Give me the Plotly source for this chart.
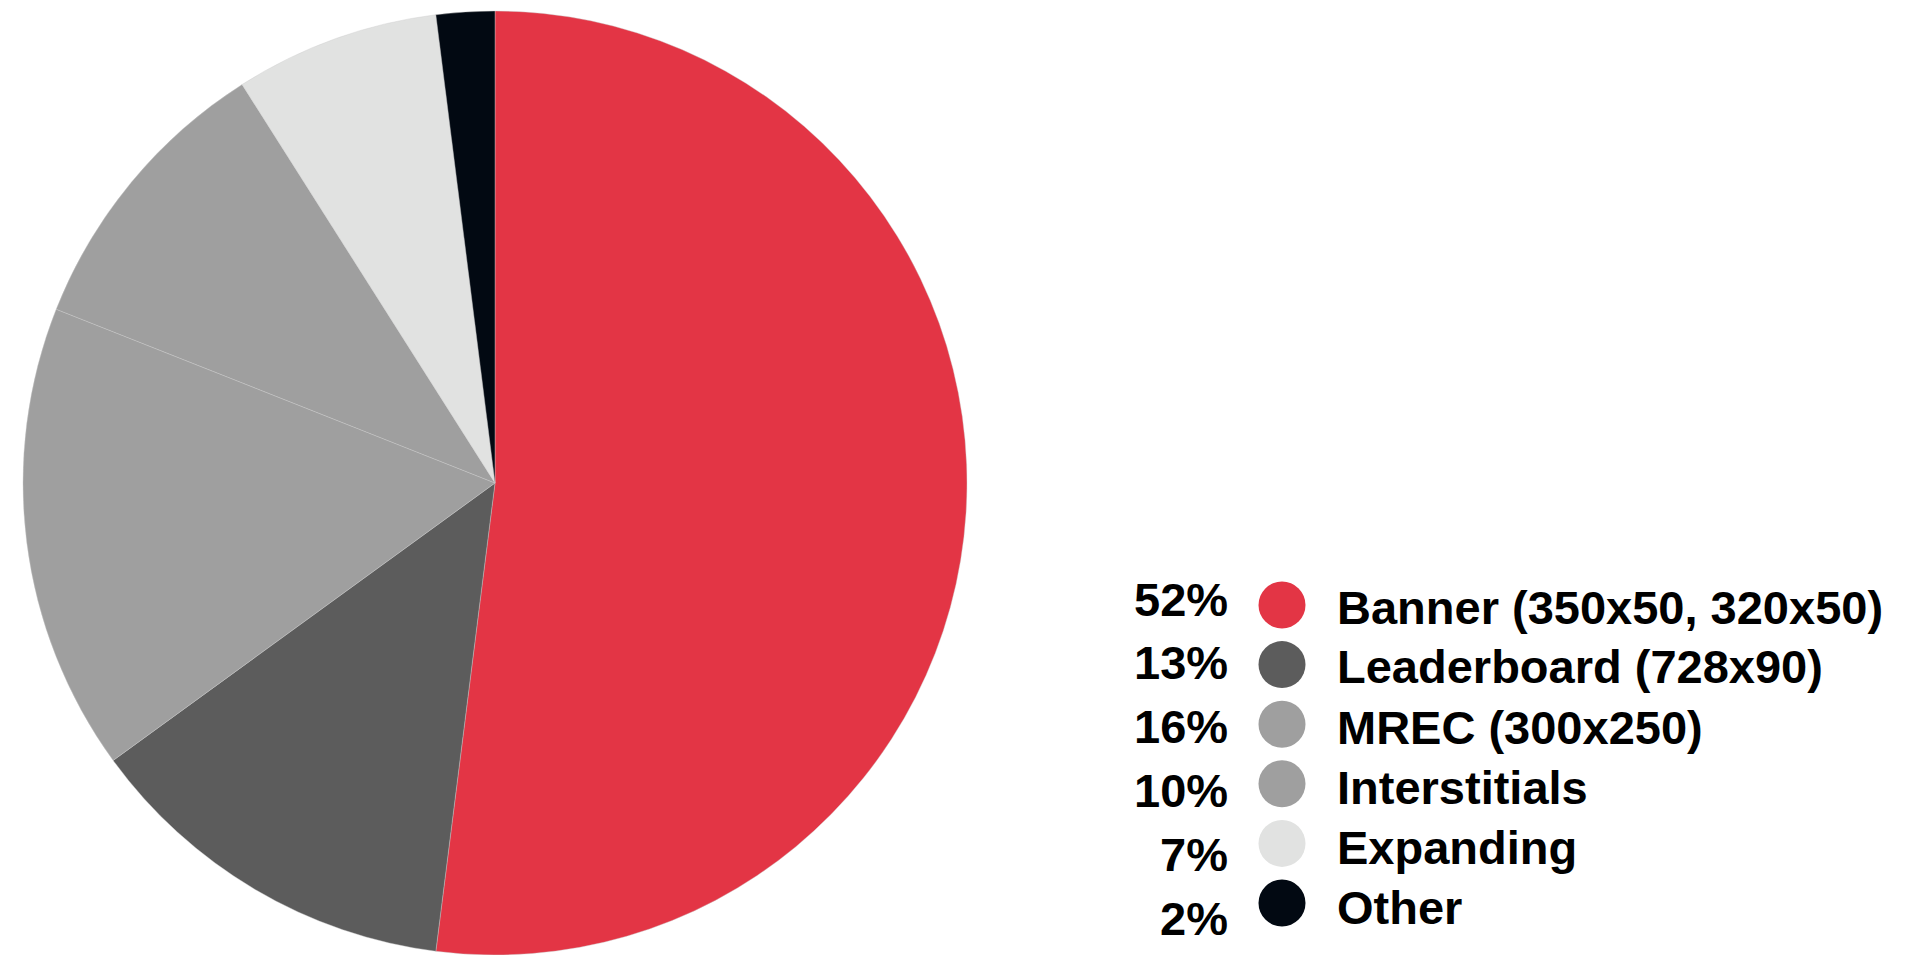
import plotly.graph_objects as go

# ---- data ----
labels = ["Banner (350x50, 320x50)", "Leaderboard (728x90)", "MREC (300x250)",
          "Interstitials", "Expanding", "Other"]
values = [52, 13, 16, 10, 7, 2]
pct_labels = ["52%", "13%", "16%", "10%", "7%", "2%"]
colors = ["#E33545", "#5C5C5C", "#9F9F9F", "#9F9F9F", "#E1E2E1", "#020912"]

W, H = 1913, 955
MT, MB = 11, 0
PH = H - MT - MB


def py(ypix):
    return (H - MB - ypix) / PH


fig = go.Figure()
fig.add_trace(go.Pie(
    labels=labels, values=values, sort=False, direction="clockwise", rotation=0,
    marker=dict(colors=colors, line=dict(color="#c9c9c9", width=0.4)),
    textinfo="none", hoverinfo="label+percent", showlegend=False,
    domain=dict(x=[0, 990 / W], y=[0, 1]),
))

font = dict(family="Liberation Sans, Arial, sans-serif", size=47, color="#000000", weight="bold")
shapes, annotations = [], []
for i, (lab, pct, col) in enumerate(zip(labels, pct_labels, colors)):
    cy = 605 + i * 59.6
    shapes.append(dict(type="circle", xref="paper", yref="paper",
                       xsizemode="pixel", ysizemode="pixel",
                       xanchor=1282 / W, yanchor=py(cy),
                       x0=-23.5, x1=23.5, y0=-23.5, y1=23.5,
                       fillcolor=col, line=dict(width=0)))
    annotations.append(dict(text=lab, xref="paper", yref="paper",
                            x=1335 / W, y=py(607 + i * 60), xanchor="left", yanchor="middle",
                            showarrow=False, font=font))
    annotations.append(dict(text=pct, xref="paper", yref="paper",
                            x=1230 / W, y=py(599 + i * 63.8), xanchor="right", yanchor="middle",
                            showarrow=False, font=font))

fig.update_layout(width=W, height=H, margin=dict(l=0, r=0, t=MT, b=MB),
                  paper_bgcolor="white", plot_bgcolor="white",
                  shapes=shapes, annotations=annotations)
fig.write_html("out.html")
